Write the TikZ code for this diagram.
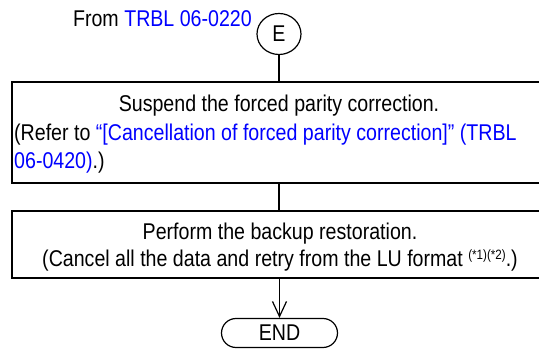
\documentclass[tikz,border=0pt]{standalone}
\usepackage{fontspec}
\setmainfont[FakeStretch=0.86]{Liberation Sans}
\usetikzlibrary{arrows.meta,shapes.geometric}
\definecolor{linkblue}{RGB}{0,0,255}
\begin{document}
\begin{tikzpicture}[x=1pt,y=-1pt,
  box/.style={draw, line width=1.8pt, minimum width=534pt, inner sep=0pt},
  conn/.style={line width=1.2pt},
  bigfont/.style={font=\fontsize{22.8}{28}\selectfont},
  txt/.style={bigfont, anchor=base, inner sep=0pt}]
\useasboundingbox (0,0) rectangle (539,363);
\begin{scope}
\clip (0,0) rectangle (539,363);
\node[box, minimum height=101pt] (b1) at (279,132.5) {};
\node[box, minimum height=67pt] (b2) at (279,244.5) {};
\end{scope}
\node[draw, ellipse, line width=1.2pt, minimum width=44pt, minimum height=41pt, inner sep=0pt, bigfont] (E) at (279,34) {E};
\node[txt, anchor=base east] (from) at (252,27) {From \textcolor{linkblue}{TRBL 06-0220}};
\node[txt] (s1) at (279,112) {Suspend the forced parity correction.};
\node[txt, anchor=base west] (s2) at (14,141) {(Refer to \textcolor{linkblue}{“[Cancellation of forced parity correction]” (TRBL}};
\node[txt, anchor=base west] (s3) at (14,169) {\textcolor{linkblue}{06-0420)}.)};
\node[txt] (p1) at (280,240) {Perform the backup restoration.};
\node[txt] (p2) at (280,267) {(Cancel all the data and retry from the LU format \raisebox{7pt}{\fontsize{13.5}{13}\selectfont(*1)(*2)}.)};
\node[draw, line width=1.2pt, rounded corners=14.5pt, minimum width=116pt, minimum height=29pt, inner sep=0pt, bigfont] (end) at (279.5,333) {END};
\draw[conn] (E) -- (b1);
\draw[conn] (b1) -- (b2);
\draw[conn, -{Straight Barb[length=15pt,width=14pt]}] (b2.south -| end.north) -- (end.north);
\end{tikzpicture}
\end{document}
